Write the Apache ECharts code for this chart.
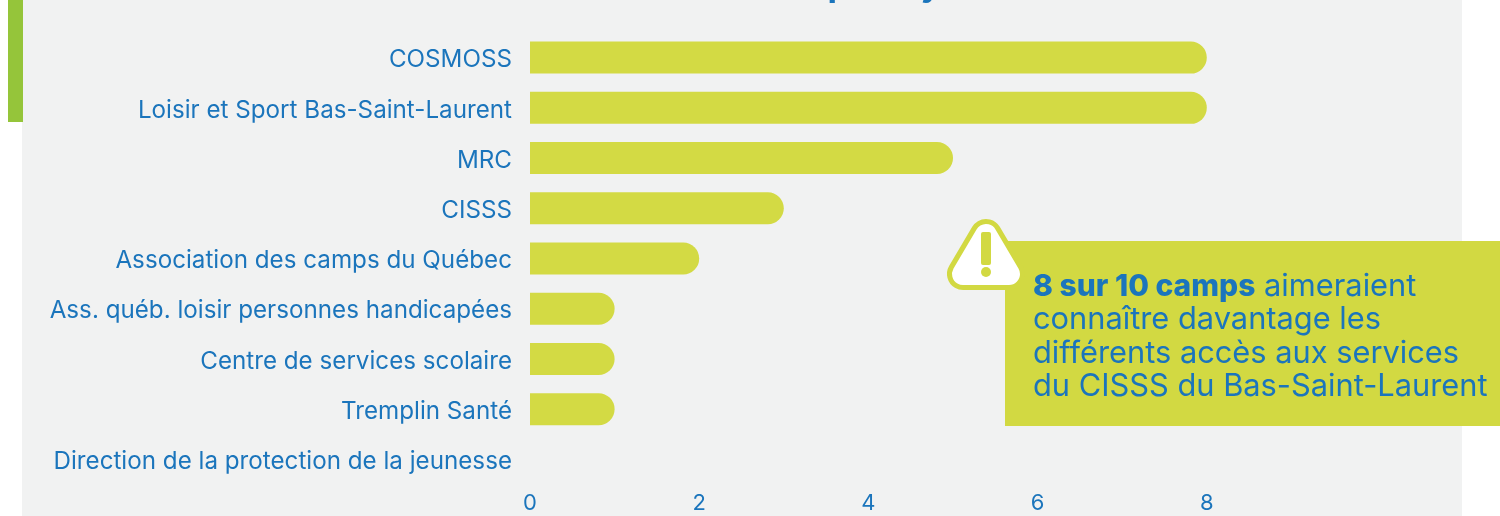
<!DOCTYPE html>
<html>
<head>
<meta charset="utf-8">
<style>
  html, body { margin: 0; padding: 0; background: #fff; }
  #chart { width: 1500px; height: 516px; }
</style>
<script src="https://cdn.jsdelivr.net/npm/echarts@6/dist/echarts.min.js"></script>
</head>
<body>
<div id="chart"></div>
<script>
var categories = [
  'COSMOSS',
  'Loisir et Sport Bas-Saint-Laurent',
  'MRC',
  'CISSS',
  'Association des camps du Québec',
  'Ass. québ. loisir personnes handicapées',
  'Centre de services scolaire',
  'Tremplin Santé',
  'Direction de la protection de la jeunesse'
];
var values = [8, 8, 5, 3, 2, 1, 1, 1, 0];

var BLUE = '#1b75bc';
var LIME = '#d3da44';
var FONT = 'Inter, "Open Sans", sans-serif';

var chart = echarts.init(document.getElementById('chart'), null, { renderer: 'canvas' });

// warning sign: rounded triangle made from a thick round-joined stroke
var signPoints = [[986, 235], [963, 274], [1009, 274]];

chart.setOption({
  animation: false,
  backgroundColor: '#fff',
  grid: { left: 530, top: 32.5, width: 846, height: 452, containLabel: false },
  xAxis: {
    type: 'value',
    min: 0,
    max: 10,
    interval: 2,
    splitLine: { show: false },
    axisLine: { show: false },
    axisTick: { show: false },
    axisLabel: {
      color: BLUE,
      fontFamily: FONT,
      fontSize: 22,
      margin: 8,
      formatter: function (v) { return v === 10 ? '' : v; }
    }
  },
  yAxis: {
    type: 'category',
    inverse: true,
    data: categories,
    axisLine: { show: false },
    axisTick: { show: false },
    axisLabel: {
      margin: 18,
      formatter: '{a|{value}}',
      // padding in rich text is what moves the label down from the band centre
      rich: { a: { color: BLUE, fontFamily: FONT, fontSize: 24.2, padding: [5, 0, 0, 0] } }
    }
  },
  series: [{
    type: 'bar',
    data: values,
    barWidth: 32,
    z: 3,
    itemStyle: { color: LIME, borderRadius: [0, 16, 16, 0] }
  }],
  graphic: [
    // panel behind the chart
    { type: 'rect', z: -10, silent: true, shape: { x: 22, y: 0, width: 1440, height: 516 }, style: { fill: '#f1f2f2' } },
    { type: 'rect', z: -9, silent: true, shape: { x: 8, y: 0, width: 15, height: 122 }, style: { fill: '#95c53a' } },

    // bottom of the cropped title
    { type: 'text', z: 5, silent: true, x: 828, y: -27, style: { text: 'p', fill: BLUE, font: '800 30px ' + FONT } },
    { type: 'text', z: 5, silent: true, x: 921, y: -27, style: { text: 'y', fill: BLUE, font: '800 30px ' + FONT } },

    // callout box
    { type: 'rect', z: 10, silent: true, shape: { x: 1005, y: 241, width: 495, height: 185 }, style: { fill: '#d2d942' } },

    // warning sign
    { type: 'polygon', z: 11, silent: true, shape: { points: signPoints }, style: { fill: '#d2d942', stroke: '#d2d942', lineWidth: 32, lineJoin: 'round' } },
    { type: 'polygon', z: 12, silent: true, shape: { points: signPoints }, style: { fill: '#fff', stroke: '#fff', lineWidth: 22, lineJoin: 'round' } },
    { type: 'rect', z: 13, silent: true, shape: { x: 981, y: 232, width: 10, height: 33, r: 2 }, style: { fill: '#d2d942' } },
    { type: 'circle', z: 13, silent: true, shape: { cx: 986, cy: 272, r: 5 }, style: { fill: '#d2d942' } },

    // callout text
    {
      type: 'text', z: 14, silent: true, x: 1033, y: 270,
      style: {
        text: '{b|8 sur 10 camps} aimeraient\nconnaître davantage les\ndifférents accès aux services\ndu CISSS du Bas-Saint-Laurent',
        fill: BLUE, font: '30.8px ' + FONT, lineHeight: 33.3,
        rich: { b: { fill: BLUE, font: '800 30px ' + FONT, lineHeight: 33.3 } }
      }
    }
  ]
});
</script>
</body>
</html>
